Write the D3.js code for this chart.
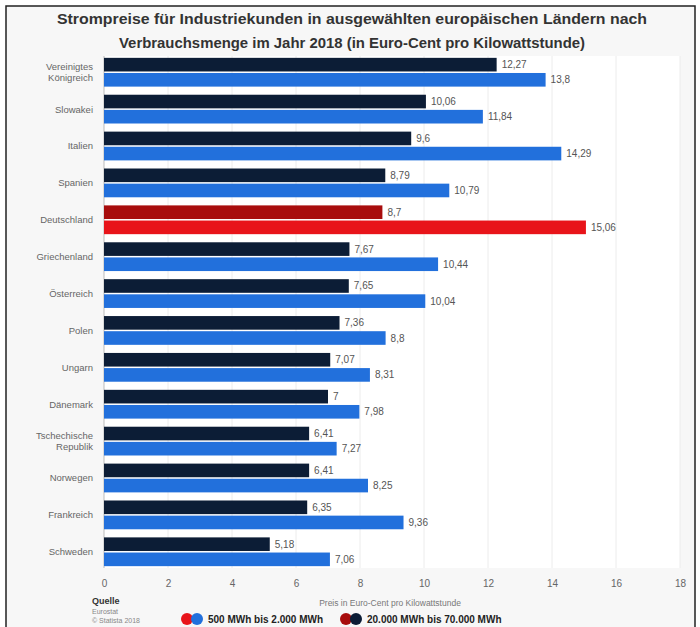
<!DOCTYPE html>
<html>
<head>
<meta charset="utf-8">
<script src="https://cdn.jsdelivr.net/npm/d3@7"></script>
<style>
  body { margin: 0; background: #fff; }
  text { font-family: "Liberation Sans", Arial, sans-serif; }
</style>
</head>
<body>
<script>
const countries = ["Vereinigtes Königreich", "Slowakei", "Italien", "Spanien", "Deutschland",
  "Griechenland", "Österreich", "Polen", "Ungarn", "Dänemark", "Tschechische Republik",
  "Norwegen", "Frankreich", "Schweden"];
const large = [12.27, 10.06, 9.6, 8.79, 8.7, 7.67, 7.65, 7.36, 7.07, 7, 6.41, 6.41, 6.35, 5.18];   // 20.000 - 70.000 MWh
const small = [13.8, 11.84, 14.29, 10.79, 15.06, 10.44, 10.04, 8.8, 8.31, 7.98, 7.27, 8.25, 9.36, 7.06]; // 500 - 2.000 MWh
const ticks = [0, 2, 4, 6, 8, 10, 12, 14, 16, 18];
const highlight = "Deutschland";

const w = 700, h = 627;
const m = { left: 104, right: 680, top: 56, bottom: 568 };

const svg = d3.select("body").append("svg")
  .attr("width", w).attr("height", h);

// background + frame
svg.append("rect").attr("x", 0).attr("y", 0).attr("width", w).attr("height", h).attr("fill", "#fff");
svg.append("rect").attr("x", 6).attr("y", 6).attr("width", 689).attr("height", 640)
  .attr("fill", "#f7f7f7").attr("stroke", "#222").attr("stroke-width", 1.5);
svg.append("rect").attr("x", m.left).attr("y", m.top)
  .attr("width", m.right - m.left).attr("height", m.bottom - m.top).attr("fill", "#fff");

// title
svg.append("text").attr("x", 352).attr("y", 24).attr("text-anchor", "middle")
  .attr("font-size", 15).attr("font-weight", "bold").attr("fill", "#333")
  .attr("textLength", 590).attr("lengthAdjust", "spacingAndGlyphs")
  .text("Strompreise für Industriekunden in ausgewählten europäischen Ländern nach");
svg.append("text").attr("x", 352).attr("y", 48).attr("text-anchor", "middle")
  .attr("font-size", 15).attr("font-weight", "bold").attr("fill", "#333")
  .attr("textLength", 466).attr("lengthAdjust", "spacingAndGlyphs")
  .text("Verbrauchsmenge im Jahr 2018 (in Euro-Cent pro Kilowattstunde)");

const x = d3.scaleLinear().domain([0, 18]).range([m.left, m.right]);
const y = d3.scaleBand().domain(countries).range([m.top, m.bottom]).paddingInner(0.22).paddingOuter(0.05);
const sub = d3.scaleBand().domain(["large", "small"]).range([0, y.bandwidth()]).paddingInner(0.1);

// grid
svg.append("g").selectAll("line").data(ticks.slice(1)).enter().append("line")
  .attr("x1", d => x(d)).attr("x2", d => x(d))
  .attr("y1", m.top).attr("y2", m.bottom)
  .attr("stroke", "#ececec").attr("stroke-width", 1);

// axis line
svg.append("line").attr("x1", m.left).attr("x2", m.left).attr("y1", m.top).attr("y2", m.bottom)
  .attr("stroke", "#bbb");

const rows = countries.map((c, i) => ({ c, large: large[i], small: small[i] }));

const g = svg.append("g").selectAll("g").data(rows).enter().append("g")
  .attr("transform", d => `translate(0,${y(d.c)})`);

g.append("rect")
  .attr("x", x(0)).attr("y", sub("large"))
  .attr("width", d => x(d.large) - x(0)).attr("height", sub.bandwidth())
  .attr("fill", d => d.c === highlight ? "#a80d0d" : "#0c1d36");
g.append("rect")
  .attr("x", x(0)).attr("y", sub("small"))
  .attr("width", d => x(d.small) - x(0)).attr("height", sub.bandwidth())
  .attr("fill", d => d.c === highlight ? "#e8141a" : "#2270dc");

const fmt = v => String(v).replace(".", ",");
g.append("text")
  .attr("x", d => x(d.large) + 5).attr("y", sub("large") + sub.bandwidth() / 2 + 3.5)
  .attr("font-size", 10).attr("fill", "#555").text(d => fmt(d.large));
g.append("text")
  .attr("x", d => x(d.small) + 5).attr("y", sub("small") + sub.bandwidth() / 2 + 3.5)
  .attr("font-size", 10).attr("fill", "#555").text(d => fmt(d.small));

// country labels
const lab = g.append("text").attr("text-anchor", "end").attr("font-size", 9.5).attr("fill", "#666");
lab.each(function(d) {
  const t = d3.select(this);
  const parts = d.c === "Vereinigtes Königreich" ? ["Vereinigtes", "Königreich"]
    : d.c === "Tschechische Republik" ? ["Tschechische", "Republik"] : [d.c];
  const mid = y.bandwidth() / 2 + 3.5;
  parts.forEach((p, k) => {
    t.append("tspan").attr("x", 93)
      .attr("y", mid + (k - (parts.length - 1) / 2) * 11)
      .text(p);
  });
});

// x axis
const ax = svg.append("g").attr("transform", `translate(0,${m.bottom})`)
  .call(d3.axisBottom(x).tickValues(ticks).tickSize(0).tickPadding(12));
ax.select(".domain").remove();
ax.selectAll("text").attr("font-size", 10).attr("fill", "#666")
  .attr("font-family", "'Liberation Sans', Arial, sans-serif");

svg.append("text").attr("x", (m.left + m.right) / 2 - 2).attr("y", 606)
  .attr("text-anchor", "middle").attr("font-size", 8.5).attr("fill", "#777")
  .text("Preis in Euro-Cent pro Kilowattstunde");

// source
svg.append("text").attr("x", 92).attr("y", 604).attr("font-size", 9).attr("font-weight", "bold")
  .attr("fill", "#333").text("Quelle");
svg.append("text").attr("x", 92).attr("y", 614).attr("font-size", 7).attr("fill", "#888").text("Eurostat");
svg.append("text").attr("x", 92).attr("y", 623).attr("font-size", 7).attr("fill", "#888").text("© Statista 2018");

// legend
const legend = [
  { label: "500 MWh bis 2.000 MWh", c1: "#e8141a", c2: "#2270dc", x: 187 },
  { label: "20.000 MWh bis 70.000 MWh", c1: "#a80d0d", c2: "#0c1d36", x: 346 }
];
const lg = svg.append("g").selectAll("g").data(legend).enter().append("g")
  .attr("transform", d => `translate(${d.x},619)`);
lg.append("circle").attr("cx", 0).attr("cy", 0).attr("r", 6).attr("fill", d => d.c1);
lg.append("circle").attr("cx", 10).attr("cy", 0).attr("r", 6).attr("fill", d => d.c2);
lg.append("text").attr("x", 21).attr("y", 4).attr("font-size", 10).attr("font-weight", "bold")
  .attr("fill", "#222").text(d => d.label);
</script>
</body>
</html>
